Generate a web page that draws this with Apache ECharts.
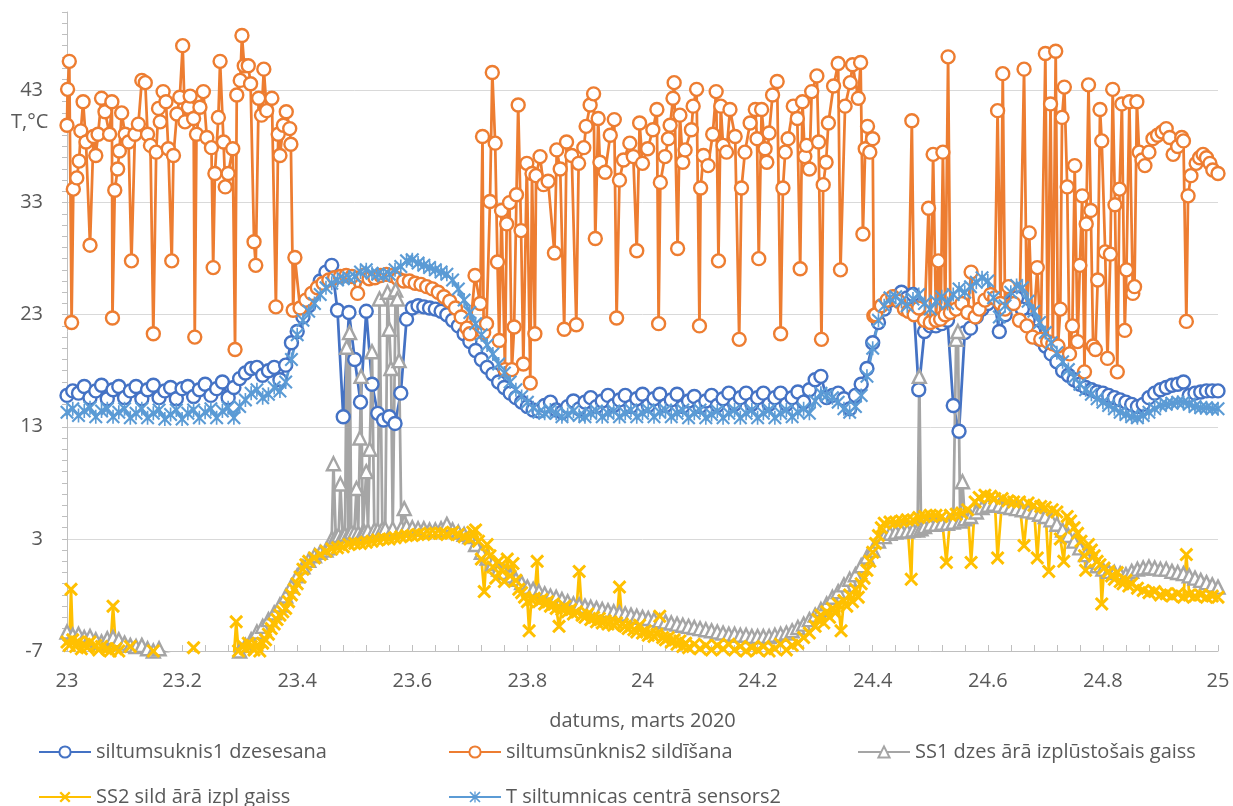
<!DOCTYPE html>
<html><head><meta charset="utf-8">
<script src="https://cdn.jsdelivr.net/npm/echarts@6/dist/echarts.min.js"></script>
<style>html,body{margin:0;padding:0;background:#fff}#c{width:1233px;height:806px}</style>
</head><body><div id="c"></div>
<script>
const FONT = '"Open Sans", "Noto Sans", sans-serif';
const seriesNames = ['siltumsuknis1 dzesesana','siltumsūnknis2 sildīšana','SS1 dzes ārā izplūstošais gaiss','SS2 sild ārā izpl gaiss','T siltumnicas centrā sensors2'];
const xTickMin = 23, xTickMax = 25, xTickStep = 0.2;
const yTickMin = -7, yTickMax = 50, yTickStep = 10;

function steps(a, b) { const out = []; for (let k = Math.round(a * 100); k <= Math.round(b * 100); k++) out.push(k / 100); return out; }
const gridTimes = steps(23.00, 25.00);

// siltumsuknis1 dzesesana (every 0.01 day)
const blueValues = [
15.8,16.2,16.0,16.6,15.6,16.2,16.7,15.5,16.3,16.6,
15.6,16.2,16.6,15.5,16.3,16.7,15.6,16.2,16.5,15.5,
16.4,16.6,15.7,16.3,16.8,15.8,16.4,17.0,15.6,16.5,
17.3,17.8,18.2,18.3,17.6,18.0,18.3,17.2,18.5,20.5,
21.5,22.8,23.8,25.0,26.0,26.8,27.4,23.4,13.9,23.2,
19.0,15.2,23.3,16.8,14.2,13.6,13.9,13.3,16.0,22.6,
23.6,23.8,23.7,23.6,23.5,23.3,23.0,22.5,22.0,21.3,
20.6,19.8,19.0,18.3,17.7,17.0,16.5,16.0,15.6,15.2,
14.8,14.5,14.4,14.9,15.2,14.5,14.3,14.8,15.3,14.6,
15.2,15.6,14.8,15.3,15.8,14.9,15.4,15.8,14.8,15.5,
15.9,14.9,15.5,15.9,14.9,15.4,15.9,14.8,15.3,15.7,
14.8,15.3,15.8,14.9,15.5,16.0,15.0,15.6,16.0,15.0,
15.6,16.0,15.0,15.6,16.0,15.0,15.6,16.1,15.2,16.3,
17.2,17.5,15.6,15.8,16.0,15.5,14.6,15.8,16.8,18.2,
20.5,22.3,23.5,24.3,24.6,25.0,24.5,24.8,16.3,21.5,
22.0,22.0,22.2,22.5,14.9,12.6,21.4,21.8,22.8,23.5,
24.0,24.5,21.5,23.0,24.0,24.5,23.5,22.5,21.5,20.8,
20.2,19.5,18.8,18.0,17.6,17.2,16.8,16.5,16.3,16.1,
16.0,15.8,15.6,15.4,15.2,15.0,14.8,15.0,15.6,16.0,
16.3,16.5,16.7,16.8,17.0,15.8,16.0,16.1,16.2,16.2,
16.2];

// T siltumnicas centrā sensors2 (every 0.01 day)
const sensorValues = [
14.3,14.6,14.0,14.4,14.7,13.9,14.4,14.6,13.9,14.3,
14.6,13.8,14.2,14.6,13.8,14.2,14.5,13.7,14.1,14.5,
13.7,14.2,14.5,13.8,14.3,14.6,13.8,14.4,14.7,13.8,
14.8,15.4,16.0,16.3,15.6,15.9,16.5,16.2,17.0,19.0,
21.2,22.5,23.3,24.0,24.8,25.4,25.8,26.1,26.2,26.3,
26.4,26.8,27.0,26.7,26.6,26.5,26.6,27.0,27.3,27.8,
27.9,27.6,27.4,27.2,27.0,26.8,26.6,26.1,25.3,24.3,
23.2,22.2,21.2,20.3,19.5,18.6,17.8,17.0,16.3,15.7,
15.2,14.7,14.3,14.2,14.5,14.2,13.9,14.1,14.4,14.0,
13.9,14.2,14.4,13.9,14.2,14.4,13.9,14.2,14.5,13.9,
14.2,14.5,13.9,14.3,14.5,13.9,14.2,14.5,13.8,14.2,
14.5,13.8,14.1,14.4,13.8,14.2,14.5,13.8,14.2,14.5,
13.8,14.2,14.5,13.8,14.2,14.5,13.9,14.3,14.6,14.2,
15.3,16.0,15.8,15.6,15.2,14.6,14.3,14.8,15.8,17.5,
20.0,22.5,23.8,24.5,24.6,24.2,23.8,24.4,24.8,24.0,
23.5,24.2,24.6,24.0,24.8,25.3,25.0,25.5,25.9,26.3,
26.0,24.5,22.8,23.8,25.0,25.6,25.4,24.2,23.3,22.3,
21.4,20.5,19.6,18.8,18.1,17.4,16.8,16.3,15.9,15.5,
15.2,14.9,14.6,14.3,14.1,13.9,13.8,14.0,14.3,14.6,
14.9,15.0,15.1,15.2,15.2,15.0,14.8,14.7,14.7,14.6,
14.6];

// siltumsūnknis2 sildīšana: [day, °C]
const orangePoints = [
[23.000,39.9],[23.001,43.1],[23.004,45.6],[23.008,22.3],[23.011,34.2],[23.017,35.2],[23.021,36.7],[23.024,39.4],[23.028,42.0],[23.033,38.4],
[23.040,29.2],[23.046,38.9],[23.050,37.2],[23.054,39.1],[23.060,42.3],[23.066,41.1],[23.074,39.1],[23.078,42.0],[23.079,22.7],[23.083,34.1],
[23.088,36.0],[23.091,37.6],[23.095,41.0],[23.101,39.1],[23.107,38.4],[23.112,27.8],[23.118,39.1],[23.124,40.0],[23.130,43.9],[23.136,43.7],
[23.140,39.1],[23.145,38.1],[23.150,21.3],[23.155,37.5],[23.159,41.4],[23.162,40.2],[23.167,42.9],[23.172,42.0],[23.176,37.8],[23.182,27.8],
[23.185,37.2],[23.191,40.9],[23.196,42.4],[23.201,47.0],[23.205,40.2],[23.211,41.5],[23.214,42.5],[23.220,40.5],[23.222,21.0],[23.225,39.1],
[23.231,41.5],[23.237,42.9],[23.243,38.8],[23.251,37.9],[23.254,27.2],[23.257,35.6],[23.263,40.6],[23.266,45.6],[23.272,38.4],[23.275,34.4],
[23.280,35.6],[23.288,37.8],[23.292,19.9],[23.295,42.6],[23.301,43.9],[23.304,47.9],[23.308,45.2],[23.315,45.2],[23.319,43.6],[23.325,29.5],
[23.328,27.4],[23.333,42.3],[23.338,40.8],[23.342,44.9],[23.347,41.2],[23.356,42.3],[23.363,23.7],[23.367,39.1],[23.370,37.2],[23.376,39.9],
[23.381,41.1],[23.387,39.6],[23.389,38.2],[23.393,23.4],[23.396,28.1],
[23.405,23.6],[23.415,24.3],[23.425,24.9],[23.435,25.4],[23.445,25.8],[23.455,26.1],[23.465,26.3],[23.475,26.4],[23.485,26.5],[23.495,26.4],
[23.505,24.9],[23.515,26.5],[23.525,26.2],[23.535,26.3],[23.545,26.5],[23.555,26.6],[23.565,26.5],[23.575,26.2],[23.585,26.0],[23.595,26.0],
[23.605,25.8],[23.615,25.7],[23.625,25.5],[23.635,25.3],[23.645,25.0],[23.655,24.6],[23.665,24.2],[23.675,23.6],[23.685,22.8],[23.695,21.8],
[23.700,21.3],[23.709,26.5],[23.718,24.0],[23.722,38.9],[23.724,21.4],[23.729,22.2],[23.735,33.1],[23.739,44.6],[23.744,38.3],[23.748,27.7],
[23.751,20.7],[23.755,32.3],[23.761,18.1],[23.764,31.1],[23.769,33.0],[23.773,18.1],[23.777,21.9],[23.781,33.7],[23.784,41.7],[23.789,30.5],
[23.793,18.6],[23.799,36.5],[23.805,16.9],[23.808,35.6],[23.813,21.3],[23.815,35.4],[23.822,37.1],[23.828,34.6],[23.836,34.9],[23.847,28.5],
[23.851,37.7],[23.857,36.0],[23.864,21.7],[23.868,38.4],[23.877,37.2],[23.885,22.1],[23.889,36.5],[23.898,37.9],[23.902,39.8],[23.909,41.7],
[23.915,42.7],[23.918,29.8],[23.923,40.5],[23.926,36.6],[23.935,35.7],[23.944,39.0],[23.951,40.4],[23.955,22.7],[23.960,35.0],[23.967,36.8],
[23.978,38.3],[23.984,37.1],[23.990,28.7],[23.995,40.1],[24.000,36.5],[24.009,37.8],[24.018,39.5],[24.025,41.3],[24.028,22.2],[24.031,34.8],
[24.039,37.1],[24.045,38.7],[24.048,39.9],[24.053,42.3],[24.055,43.7],[24.061,28.9],[24.065,40.8],[24.070,36.6],[24.074,37.7],[24.085,39.5],
[24.088,41.6],[24.094,43.1],[24.099,22.0],[24.101,34.3],[24.106,37.2],[24.114,36.3],[24.122,39.1],[24.128,42.9],[24.132,27.8],[24.136,41.6],
[24.140,38.1],[24.146,37.5],[24.152,41.3],[24.161,38.9],[24.168,20.8],[24.172,34.3],[24.178,37.5],[24.187,40.1],[24.196,41.3],[24.199,38.7],
[24.202,28.0],[24.207,41.3],[24.213,37.8],[24.216,36.6],[24.220,39.2],[24.226,42.6],[24.234,43.8],[24.240,21.3],[24.244,34.3],[24.248,37.5],
[24.253,38.7],[24.262,41.6],[24.269,40.5],[24.274,27.1],[24.278,42.0],[24.282,37.1],[24.285,38.1],[24.290,36.0],[24.294,42.9],[24.303,44.3],
[24.306,38.4],[24.311,20.8],[24.314,34.6],[24.319,36.6],[24.323,40.1],[24.332,43.4],[24.340,45.4],[24.344,27.0],[24.352,41.6],[24.361,43.7],
[24.365,45.3],[24.375,42.3],[24.379,45.5],[24.383,30.2],[24.387,37.8],[24.391,39.8],[24.395,37.5],[24.400,38.7],[24.402,22.9],
[24.405,23.0],[24.415,23.8],[24.425,24.3],[24.435,24.6],[24.445,24.2],[24.455,23.5],[24.462,23.3],[24.468,40.3],[24.472,23.0],[24.480,23.6],
[24.490,22.5],[24.497,32.5],[24.500,22.3],[24.505,37.3],[24.510,22.5],[24.514,27.8],[24.518,22.6],[24.522,37.5],[24.526,23.0],[24.531,46.0],
[24.535,23.2],[24.545,23.5],[24.555,24.0],[24.565,23.2],[24.571,26.8],[24.578,22.8],[24.585,23.5],[24.595,24.3],[24.605,24.8],[24.612,24.5],
[24.617,41.2],[24.622,24.0],[24.626,44.5],[24.630,23.5],[24.636,25.5],[24.645,24.0],[24.655,22.5],[24.663,44.9],[24.668,22.0],[24.672,30.3],
[24.678,21.0],[24.686,27.2],[24.692,20.8],[24.700,46.3],[24.704,20.6],[24.709,41.8],[24.713,20.4],[24.718,46.5],[24.722,20.2],[24.726,23.5],
[24.729,40.6],[24.733,43.3],[24.738,34.4],[24.742,19.5],[24.747,22.0],[24.751,36.3],[24.756,20.6],[24.760,27.4],[24.764,33.6],[24.768,17.9],
[24.771,31.1],[24.775,43.5],[24.779,32.3],[24.783,20.2],[24.787,19.9],[24.791,26.1],[24.795,41.3],[24.798,38.5],[24.804,28.6],[24.808,19.1],
[24.813,28.4],[24.817,43.1],[24.821,32.8],[24.825,17.9],[24.829,34.2],[24.833,41.8],[24.838,21.6],[24.841,27.0],[24.846,42.0],[24.852,24.9],
[24.855,25.5],[24.859,42.0],[24.863,37.5],[24.868,36.8],[24.873,36.3],[24.880,37.5],[24.887,38.7],[24.895,39.0],[24.903,39.3],[24.910,39.6],
[24.916,38.8],[24.922,37.3],[24.930,38.0],[24.937,38.8],[24.940,38.5],[24.945,22.4],[24.948,33.6],[24.953,35.4],[24.962,36.5],[24.968,37.0],
[24.974,37.3],[24.980,37.0],[24.986,36.5],[24.991,35.9],[25.000,35.6]];

// SS1 dzes ārā izplūstošais gaiss
const grayEarly = [
-5.3,-5.6,-5.5,-5.8,-5.7,-6.0,-6.2,-5.9,-5.8,-6.0,
-6.3,-6.5,-6.6,-6.5,-6.8,-7.0,-6.8,-7.1,-7.3,-7.5,
-7.6,-7.8,-7.9,-8.0,-8.0,-8.0,-7.9,-7.8,-7.6,-7.3,
-7.0,-6.5,-6.0,-5.3,-4.8,-4.2,-3.6,-2.9,-2.1,-1.2,
-0.3,0.5,1.1,1.5,1.8,2.0]; // 23.00 .. 23.45
const graySpikes1 = [
[23.455,2.2],[23.460,3.0],[23.463,9.7],[23.467,3.2],[23.472,3.3],[23.475,7.9],[23.479,3.3],[23.483,3.4],[23.486,20.1],[23.489,3.4],
[23.491,21.4],[23.494,3.6],[23.499,3.5],[23.503,7.5],[23.506,3.5],[23.509,12.0],[23.511,17.5],[23.514,3.6],[23.517,3.6],[23.520,9.0],
[23.523,3.7],[23.526,11.0],[23.530,19.7],[23.534,3.8],[23.540,3.8],[23.543,24.4],[23.548,3.9],[23.553,3.9],[23.557,25.0],[23.560,21.7],
[23.563,18.2],[23.566,3.9],[23.571,25.2],[23.574,24.4],[23.577,18.9],[23.581,4.0],[23.586,5.7],[23.590,4.1]];
const grayMid = [
4.0,3.9,3.9,3.8,3.8,3.9,4.3,3.8,3.6,3.4,
3.2,2.5,1.8,1.3,0.8,0.3,0.0,-0.3,-0.6,-0.9,
-1.3,-1.5,-1.7,-1.9,-2.1,-2.2,-2.4,-2.6,-2.8,-2.9,
-3.0,-3.1,-3.2,-3.3,-3.4,-3.5,-3.6,-3.7,-3.8,-3.9,
-4.0,-4.1,-4.2,-4.3,-4.4,-4.5,-4.6,-4.7,-4.8,-4.9,
-5.0,-5.1,-5.2,-5.3,-5.4,-5.5,-5.5,-5.6,-5.6,-5.7,
-5.7,-5.7,-5.7,-5.6,-5.5,-5.4,-5.2,-4.9,-4.6,-4.2,
-3.8,-3.3,-2.8,-2.2,-1.7,-1.1,-0.6,-0.2,0.6,1.4,
2.0,2.8,3.2,3.5,3.6,3.7,3.7,3.8]; // 23.60 .. 24.47
const graySpikes2 = [
[24.478,3.8],[24.481,17.5],[24.484,3.9],[24.490,4.1],[24.500,4.3],[24.510,4.3],[24.520,4.4],[24.530,4.4],[24.540,4.5],[24.545,20.8],
[24.548,21.5],[24.552,4.6],[24.556,8.1],[24.560,4.8],[24.570,5.0],[24.580,5.4],[24.590,5.8],[24.600,6.0],[24.610,6.1],[24.620,6.0]];
const grayLate = [
5.9,5.8,5.7,5.6,5.5,5.4,5.2,
5.0,4.7,4.3,3.8,3.3,2.8,2.2,1.6,1.0,0.6,
0.3,0.1,0.0,-0.1,-0.2,0.1,0.3,0.4,0.5,0.4,
0.3,0.3,0.1,0.0,-0.1,-0.3,-0.5,-0.7,-0.9,-1.1,
-1.3]; // 24.63 .. 25.00

// SS2 sild ārā izpl gaiss: [day, °C]
const yellowPoints = [
[23.000,-6.2],[23.004,-6.5],[23.007,-1.5],[23.010,-6.0],[23.015,-6.6],[23.020,-6.2],[23.025,-6.8],[23.030,-6.4],[23.035,-6.7],[23.040,-6.2],
[23.045,-7.1],[23.050,-6.5],[23.055,-6.9],[23.060,-6.6],[23.065,-7.2],[23.070,-6.8],[23.075,-7.0],[23.080,-3.0],[23.085,-6.8],[23.090,-7.0],
[23.100,-7.3],[23.110,-6.6],[23.120,-7.5],[23.130,-7.8],[23.140,-7.2],[23.150,-7.0],[23.160,-7.8],[23.170,-8.0],[23.180,-8.0],[23.190,-7.8],
[23.200,-7.5],[23.210,-7.2],[23.220,-6.7],[23.230,-7.5],[23.240,-8.0],[23.250,-8.2],[23.260,-8.3],[23.270,-8.2],[23.280,-8.0],[23.290,-7.5],
[23.294,-4.4],[23.298,-7.0],[23.305,-6.5],[23.310,-6.8],[23.315,-6.3],[23.320,-6.6],[23.325,-6.9],[23.330,-6.5],[23.335,-7.0],[23.340,-6.3],
[23.345,-6.0],[23.350,-5.5],[23.355,-5.0],[23.360,-4.6],[23.365,-4.2],[23.370,-3.8],[23.375,-3.5],[23.380,-3.2],[23.385,-2.6],[23.390,-2.0],
[23.395,-1.5],[23.400,-1.0],[23.405,-0.4],[23.410,0.3],[23.415,0.7],[23.420,1.0],[23.430,1.3],[23.440,1.6],[23.450,1.9],[23.460,2.1],
[23.470,2.2],[23.480,2.3],[23.490,2.5],[23.500,2.6],[23.510,2.6],[23.520,2.7],[23.530,2.8],[23.540,2.9],[23.550,3.0],[23.560,3.0],
[23.570,3.1],[23.580,3.2],[23.590,3.3],[23.600,3.3],[23.610,3.4],[23.620,3.4],[23.630,3.5],[23.640,3.5],[23.650,3.5],[23.660,3.4],
[23.670,3.6],[23.680,3.4],[23.690,3.2],[23.700,3.0],[23.705,3.6],[23.710,3.8],[23.715,2.8],[23.720,1.2],[23.725,-1.7],[23.730,2.5],
[23.735,1.5],[23.740,0.5],[23.745,-0.5],[23.750,1.0],[23.755,0.2],[23.760,-0.8],[23.765,1.2],[23.770,-0.3],[23.775,0.8],[23.780,-0.7],
[23.785,-1.5],[23.790,-1.8],[23.795,-2.2],[23.800,-2.6],[23.803,-5.2],[23.807,-2.4],[23.812,-2.3],[23.817,1.0],[23.820,-2.6],[23.825,-2.4],
[23.830,-2.8],[23.835,-2.6],[23.840,-3.0],[23.845,-2.8],[23.850,-3.2],[23.855,-4.8],[23.860,-3.3],[23.865,-3.0],[23.870,-3.5],[23.875,-3.3],
[23.880,-3.7],[23.885,-3.5],[23.890,0.1],[23.895,-3.8],[23.900,-4.0],[23.905,-3.7],[23.910,-4.2],[23.915,-4.0],[23.920,-4.4],[23.925,-4.1],
[23.930,-4.5],[23.935,-4.3],[23.940,-4.6],[23.945,-4.4],[23.950,-4.7],[23.955,-4.5],[23.960,-1.3],[23.965,-4.6],[23.970,-4.8],[23.975,-5.0],
[23.980,-4.8],[23.985,-5.1],[23.990,-5.3],[23.995,-4.7],[24.000,-5.4],[24.005,-5.2],[24.010,-5.6],[24.015,-5.4],[24.020,-5.7],[24.025,-5.5],
[24.030,-3.9],[24.035,-5.8],[24.040,-6.0],[24.045,-5.8],[24.050,-6.2],[24.055,-6.0],[24.060,-6.4],[24.065,-6.1],[24.070,-6.6],[24.075,-6.3],
[24.080,-6.7],[24.090,-6.4],[24.100,-6.8],[24.110,-6.5],[24.120,-6.9],[24.130,-6.5],[24.140,-6.8],[24.150,-6.4],[24.160,-6.9],[24.170,-6.6],
[24.180,-7.0],[24.190,-6.7],[24.200,-6.9],[24.210,-6.6],[24.220,-7.0],[24.230,-6.8],[24.240,-6.4],[24.250,-6.9],[24.260,-6.5],[24.270,-6.3],
[24.280,-5.8],[24.290,-5.4],[24.300,-4.8],[24.305,-4.2],[24.310,-3.8],[24.315,-4.5],[24.320,-3.5],[24.325,-4.0],[24.330,-3.2],[24.335,-3.6],
[24.340,-2.8],[24.345,-5.2],[24.350,-2.5],[24.355,-3.0],[24.360,-2.0],[24.365,-2.6],[24.370,-1.5],[24.375,-2.2],[24.380,-1.0],[24.385,-0.5],
[24.390,0.2],[24.395,1.0],[24.400,1.8],[24.405,2.6],[24.410,3.3],[24.415,4.0],[24.420,4.4],[24.430,4.5],[24.440,4.5],[24.450,4.6],
[24.460,4.7],[24.467,-0.6],[24.470,4.7],[24.480,4.9],[24.490,5.0],[24.500,5.1],[24.510,5.1],[24.520,5.0],[24.528,0.9],[24.535,5.1],
[24.545,5.2],[24.555,5.3],[24.565,5.6],[24.571,0.9],[24.578,6.3],[24.585,6.7],[24.595,6.9],[24.605,6.8],[24.612,6.6],[24.617,1.3],
[24.625,6.6],[24.635,6.4],[24.645,6.3],[24.655,6.3],[24.663,2.4],[24.670,6.2],[24.680,6.0],[24.686,1.3],[24.692,5.9],[24.700,5.8],
[24.706,0.1],[24.712,5.6],[24.720,5.4],[24.726,3.0],[24.732,1.0],[24.738,5.0],[24.744,4.6],[24.750,4.0],[24.756,3.5],[24.762,2.8],
[24.768,1.5],[24.770,0.2],[24.775,2.5],[24.780,2.0],[24.785,1.5],[24.790,1.0],[24.795,0.7],[24.798,-2.8],[24.802,0.4],[24.810,0.1],
[24.815,-0.3],[24.820,-0.6],[24.825,0.0],[24.830,-0.8],[24.835,-1.0],[24.840,-0.7],[24.845,-1.2],[24.850,-1.0],[24.860,-1.4],[24.870,-1.6],
[24.880,-1.8],[24.890,-1.7],[24.900,-2.0],[24.910,-1.9],[24.920,-2.1],[24.930,-1.9],[24.940,-2.2],[24.945,1.6],[24.950,-2.0],[24.960,-2.1],
[24.970,-2.0],[24.980,-2.2],[24.990,-2.1],[25.000,-2.2]];

const zip = (ts, vs) => ts.map((t, i) => [t, vs[i]]);
const blueData = zip(gridTimes, blueValues);
const sensorData = zip(gridTimes, sensorValues);
const grayData = [].concat(
  zip(steps(23.00, 23.45), grayEarly), graySpikes1,
  zip(steps(23.60, 24.47), grayMid), graySpikes2,
  zip(steps(24.63, 25.00), grayLate));

const C = { blue: '#4472C4', orange: '#ED7D31', gray: '#A5A5A5', yellow: '#FFC000', sky: '#5B9BD5' };
const XSYM = 'path://M0,1.8L1.8,0L6,4.2L10.2,0L12,1.8L7.8,6L12,10.2L10.2,12L6,7.8L1.8,12L0,10.2L4.2,6Z';
const STARSYM = 'path://M0,1.3L1.3,0L6,4.7L10.7,0L12,1.3L7.3,6L12,10.7L10.7,12L6,7.3L1.3,12L0,10.7L4.7,6Z M5.3,0L6.7,0L6.7,12L5.3,12Z';

function lineSeries(name, data, color, symbol, size, hollow) {
  return {
    name, type: 'line', data, color, symbol, symbolSize: size,
    lineStyle: { color, width: 2.75 },
    itemStyle: hollow ? { color: '#ffffff', borderColor: color, borderWidth: 2.4 } : { color },
    showAllSymbol: true, animation: false, clip: true
  };
}

const chart = echarts.init(document.getElementById('c'), null, { renderer: 'canvas' });
const txt = { color: '#595959', fontSize: 20, fontFamily: FONT };
const legendAt = (name, left, top) => ({ data: [name], left, top, itemWidth: 52, itemHeight: 14, itemGap: 0, textStyle: txt, selectedMode: false, padding: 0 });

chart.setOption({
  animation: false,
  textStyle: { fontFamily: FONT },
  grid: { left: 67, right: 15, top: 12, bottom: 155 },
  xAxis: {
    type: 'value', min: xTickMin, max: xTickMax, interval: xTickStep,
    axisLine: { show: true, onZero: false, lineStyle: { color: '#BFBFBF', width: 1 } },
    axisTick: { show: true, inside: true, length: 6, lineStyle: { color: '#BFBFBF' } },
    minorTick: { show: true, splitNumber: 5, length: 6, lineStyle: { color: '#BFBFBF' } },
    splitLine: { show: false },
    axisLabel: Object.assign({ margin: 20, formatter: v => String(Math.round(v * 10) / 10) }, txt),
    name: 'datums, marts 2020', nameLocation: 'middle', nameGap: 60, nameTextStyle: txt
  },
  yAxis: {
    type: 'value', min: yTickMin, max: yTickMax, interval: yTickStep,
    axisLine: { show: true, lineStyle: { color: '#BFBFBF', width: 1 } },
    axisTick: { show: true, length: 5, lineStyle: { color: '#BFBFBF' } },
    minorTick: { show: true, splitNumber: 10, length: 5, lineStyle: { color: '#BFBFBF' } },
    splitLine: { show: true, showMaxLine: false, lineStyle: { color: '#D9D9D9', width: 1 } },
    axisLabel: Object.assign({ margin: 24, showMaxLabel: false, formatter: v => String(Math.round(v)) }, txt)
  },
  graphic: [{ type: 'text', left: 11, top: 112, style: { text: 'T,°C', fill: '#595959', font: '20px ' + FONT } }],
  legend: [
    legendAt(seriesNames[0], 38, 742),
    legendAt(seriesNames[1], 448, 742),
    legendAt(seriesNames[2], 857, 742),
    legendAt(seriesNames[3], 38, 787),
    legendAt(seriesNames[4], 448, 787)
  ],
  series: [
    lineSeries(seriesNames[0], blueData, C.blue, 'circle', 13, true),
    lineSeries(seriesNames[1], orangePoints, C.orange, 'circle', 13, true),
    lineSeries(seriesNames[2], grayData, C.gray, 'triangle', 13, true),
    lineSeries(seriesNames[3], yellowPoints, C.yellow, XSYM, 14, false),
    lineSeries(seriesNames[4], sensorData, C.sky, STARSYM, 14, false)
  ]
});
</script>
</body></html>
